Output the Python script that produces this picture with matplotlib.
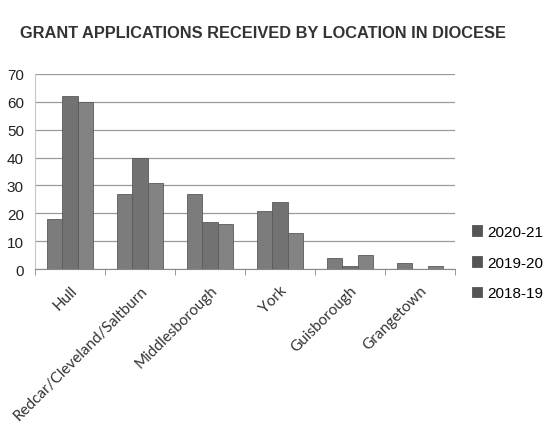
import matplotlib.pyplot as plt
import numpy as np

locations = ['Hull', 'Redcar/Cleveland/Saltburn', 'Middlesborough', 'York',
             'Guisborough', 'Grangetown']
years = ['2020-21', '2019-20', '2018-19']
apps_2020_21 = [18, 27, 27, 21, 4, 2]
apps_2019_20 = [62, 40, 17, 24, 1, 0]
apps_2018_19 = [60, 31, 16, 13, 5, 1]
yticks = [0, 10, 20, 30, 40, 50, 60, 70]

series = [apps_2020_21, apps_2019_20, apps_2018_19]
colors = ['#7c7c7c', '#727272', '#838383']

fig = plt.figure(figsize=(5.58, 4.39), dpi=100, facecolor='white')
ax = fig.add_axes([35/558, 1-270/439, 420/558, 195/439])

x = np.arange(len(locations))
w = 0.22
for i, vals in enumerate(series):
    ax.bar(x + (i-1)*w, vals, w, color=colors[i], edgecolor='#5a5a5a',
           linewidth=0.6, label=years[i], zorder=3)

ax.set_xlim(-0.5, len(locations)-0.5)
ax.set_ylim(0, 70)
ax.set_yticks(yticks)
ax.set_yticklabels([str(v) for v in yticks], fontsize=11,
                   family=['Liberation Sans', 'DejaVu Sans'], color='#222222')
ax.tick_params(axis='y', length=0, pad=8)
ax.yaxis.grid(True, color='#9a9a9a', linewidth=0.9, zorder=0)

ax.set_xticks(x)
ax.set_xticklabels(locations, rotation=45, ha='right', rotation_mode='anchor',
                   fontsize=11, family=['Lato', 'DejaVu Sans'], color='#333333')
ax.tick_params(axis='x', length=0, pad=10)
# small tick marks between categories
ax.set_xticks(np.arange(len(locations)+1) - 0.5, minor=True)
ax.tick_params(axis='x', which='minor', length=4, color='#888888', direction='out')

for s in ['top', 'right']:
    ax.spines[s].set_visible(False)
ax.spines['left'].set_color('#c8c8c8')
ax.spines['bottom'].set_color('#888888')

leg = fig.legend(loc='upper left', bbox_to_anchor=(458/558, 1-212/439),
                 frameon=False, handlelength=0.7, handleheight=0.7,
                 labelspacing=1.1, handletextpad=0.3,
                 prop={'family': ['Liberation Sans', 'DejaVu Sans'], 'size': 11})
for h in leg.legend_handles:
    h.set_color('#555555')

fig.text(20/558, 1-34/439, 'GRANT APPLICATIONS RECEIVED BY LOCATION IN DIOCESE',
         fontsize=11.8, fontweight='bold', color='#333333', va='center',
         family=['Liberation Sans', 'DejaVu Sans'])

fig.savefig('out.png', dpi=100, facecolor='white')
